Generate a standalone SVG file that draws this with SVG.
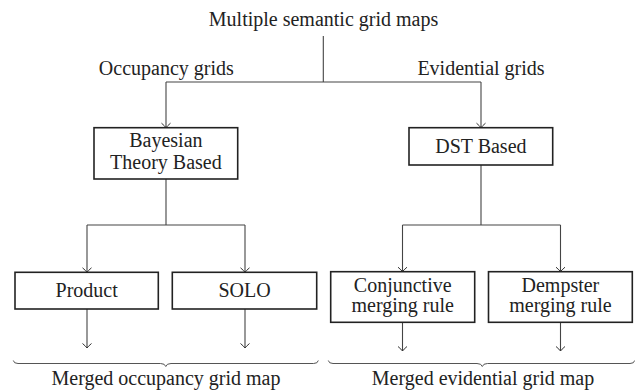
<svg xmlns="http://www.w3.org/2000/svg" width="635" height="391" viewBox="0 0 635 391">
<style>
  text { font-family: "Liberation Serif", "Times New Roman", serif; font-size: 20px; fill: #222; text-anchor: middle; }
  .box { fill: #fff; stroke: #222; stroke-width: 1.6; }
  .conn { fill: none; stroke: #444; stroke-width: 1.1; }
  .brace { fill: none; stroke: #555; stroke-width: 1; }
</style>
<defs>
  <marker id="arr" markerUnits="userSpaceOnUse" viewBox="-6 -6 8 12" markerWidth="8" markerHeight="12" refX="0" refY="0" orient="auto">
    <path d="M-4.5,-4.5 Q-1.5,-1 0,0 Q-1.5,1 -4.5,4.5" fill="none" stroke="#333" stroke-width="1"/>
  </marker>
</defs>
<rect width="635" height="391" fill="#fff"/>

<g id="connectors">
  <path class="conn" d="M323.3,36 V82 M166,82 H481"/>
  <path class="conn" d="M166,82 V127.7" marker-end="url(#arr)"/>
  <path class="conn" d="M481,82 V127.7" marker-end="url(#arr)"/>
  <path class="conn" d="M166,179 V225 M87,225 H245"/>
  <path class="conn" d="M87,225 V272.3" marker-end="url(#arr)"/>
  <path class="conn" d="M245,225 V272.3" marker-end="url(#arr)"/>
  <path class="conn" d="M481,165 V225 M402.5,225 H560.5"/>
  <path class="conn" d="M402.5,225 V271.7" marker-end="url(#arr)"/>
  <path class="conn" d="M560.5,225 V271.7" marker-end="url(#arr)"/>
  <path class="conn" d="M87,309 V348" marker-end="url(#arr)"/>
  <path class="conn" d="M245,309 V348" marker-end="url(#arr)"/>
  <path class="conn" d="M402.5,322.3 V351" marker-end="url(#arr)"/>
  <path class="conn" d="M560.5,322.3 V351" marker-end="url(#arr)"/>
</g>

<g id="title"><text x="323.5" y="26">Multiple semantic grid maps</text></g>
<g id="label-occupancy"><text x="166.3" y="75">Occupancy grids</text></g>
<g id="label-evidential"><text x="481" y="75">Evidential grids</text></g>

<g id="bayesian">
  <rect class="box" x="94" y="127.7" width="143.7" height="51.3"/>
  <text x="165.9" y="146.7">Bayesian</text>
  <text x="165.9" y="169.3">Theory Based</text>
</g>
<g id="dst">
  <rect class="box" x="409" y="127.7" width="143.7" height="37.3"/>
  <text x="480.9" y="153.3">DST Based</text>
</g>
<g id="product">
  <rect class="box" x="15" y="272.3" width="143.3" height="36.7"/>
  <text x="86.7" y="297.3">Product</text>
</g>
<g id="solo">
  <rect class="box" x="172.3" y="272.3" width="144.4" height="36.7"/>
  <text x="244.5" y="297.3">SOLO</text>
</g>
<g id="conjunctive">
  <rect class="box" x="330.7" y="271.7" width="144" height="50.6"/>
  <text x="402.7" y="291.7">Conjunctive</text>
  <text x="402.7" y="312.3">merging rule</text>
</g>
<g id="dempster">
  <rect class="box" x="488.5" y="271.7" width="143.8" height="50.6"/>
  <text x="560.4" y="291.7">Dempster</text>
  <text x="560.4" y="312.3">merging rule</text>
</g>

<g id="brace-occupancy">
  <path class="brace" d="M13.3,360.5 Q13.8,363.5 18,363.5 L160.5,363.5 Q165,363.5 165.8,366.5 Q166.6,363.5 171,363.5 L313.6,363.5 Q317.8,363.5 318.3,360.5"/>
  <text x="166" y="385">Merged occupancy grid map</text>
</g>
<g id="brace-evidential">
  <path class="brace" d="M328.3,360.5 Q328.8,363.5 333,363.5 L477,363.5 Q481.5,363.5 482.3,366.5 Q483.1,363.5 487.5,363.5 L630,363.5 Q634.2,363.5 634.7,360.5"/>
  <text x="483" y="385">Merged evidential grid map</text>
</g>
</svg>
